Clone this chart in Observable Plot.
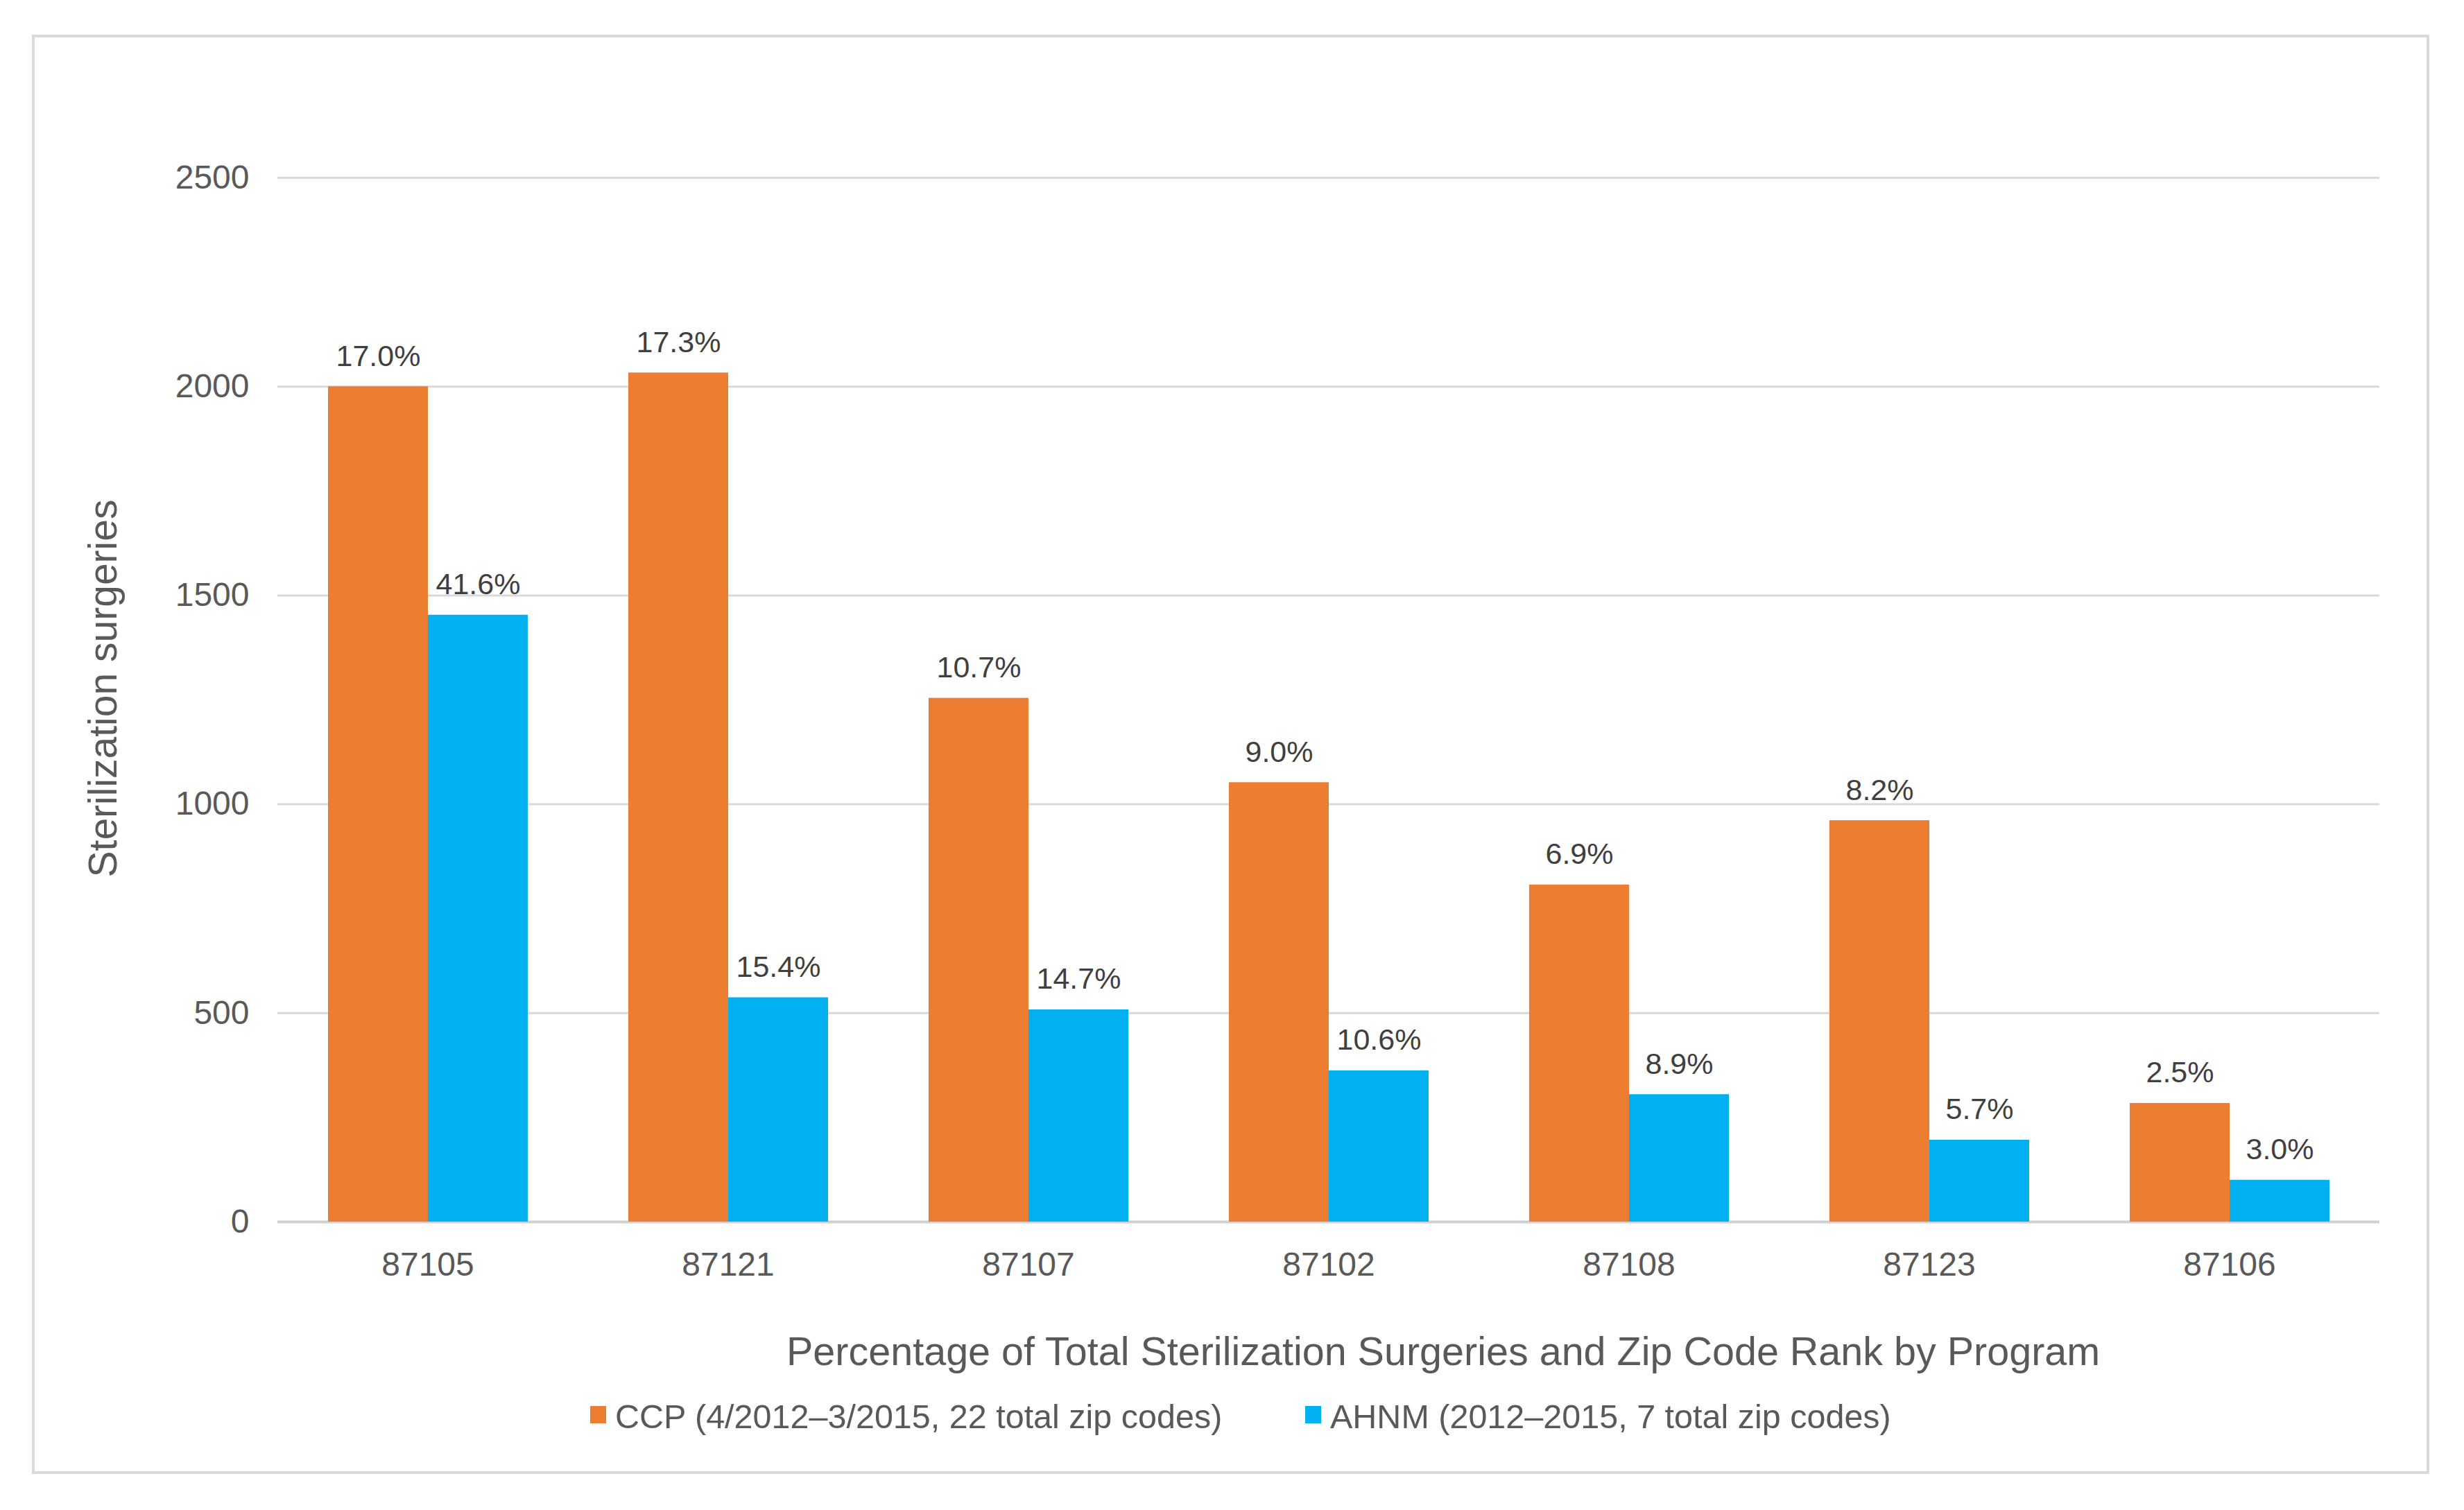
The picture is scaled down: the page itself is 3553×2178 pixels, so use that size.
<!DOCTYPE html>
<html>
<head>
<meta charset="utf-8">
<script src="https://cdn.jsdelivr.net/npm/d3@7"></script>
<script src="https://cdn.jsdelivr.net/npm/@observablehq/plot@0.6"></script>
<style>
  body { margin: 0; background: white; font-family: "Liberation Sans", Arial, sans-serif; color: #595959; }
  #page { position: relative; width: 3553px; height: 2178px; }
  #frame { position: absolute; left: 46px; top: 50px; width: 3457px; height: 2076px; border: 4px solid #dadada; box-sizing: border-box; }
  #chart { position: absolute; left: 0; top: 0; }
  #ytitle { position: absolute; left: 148px; top: 993px; font-size: 57px; line-height: 57px; white-space: nowrap;
            transform: translate(-50%, -50%) rotate(-90deg); }
  #xtitle { position: absolute; left: 1134px; top: 1921px; font-size: 57.5px; line-height: 57.5px; white-space: nowrap; }
  .key { position: absolute; top: 2019px; font-size: 48.5px; line-height: 48.5px; white-space: nowrap; padding-left: 36px; }
  .key i { position: absolute; left: 0; top: 9px; width: 23px; height: 25px; }
</style>
</head>
<body>
<div id="page">
  <div id="frame"></div>
  <div id="chart"></div>
  <div id="ytitle">Sterilization surgeries</div>
  <div id="xtitle">Percentage of Total Sterilization Surgeries and Zip Code Rank by Program</div>
  <div id="legend"></div>
</div>
<script>
// zip codes in rank order
const zips = ["87105", "87121", "87107", "87102", "87108", "87123", "87106"];
const programs = ["CCP", "AHNM"];
const legendLabels = ["CCP (4/2012–3/2015, 22 total zip codes)", "AHNM (2012–2015, 7 total zip codes)"];
const colors = ["#ED7D31", "#00B0F0"];

// sterilization surgeries per zip code
const ccpCounts = [2000, 2033, 1254, 1052, 807, 961, 284];
const ahnmCounts = [1453, 537, 508, 362, 305, 196, 100];

// share of the program's total
const ccpPct = ["17.0%", "17.3%", "10.7%", "9.0%", "6.9%", "8.2%", "2.5%"];
const ahnmPct = ["41.6%", "15.4%", "14.7%", "10.6%", "8.9%", "5.7%", "3.0%"];

const yTicks = [0, 500, 1000, 1500, 2000, 2500];

const rows = [];
zips.forEach((z, i) => {
  rows.push({zip: z, program: "CCP", count: ccpCounts[i], pct: ccpPct[i]});
  rows.push({zip: z, program: "AHNM", count: ahnmCounts[i], pct: ahnmPct[i]});
});

const chart = Plot.plot({
  width: 3553,
  height: 1880,
  marginLeft: 397,
  marginRight: 119,
  marginTop: 256,
  marginBottom: 118,
  style: {fontFamily: "Liberation Sans, Arial, sans-serif", fontSize: "48px", color: "#595959", background: "transparent"},
  fx: {domain: zips, padding: 0, label: null, tickSize: 0, tickPadding: 43},
  x: {domain: programs, axis: null, paddingInner: 0, paddingOuter: 0.5},
  y: {domain: [0, 2500], ticks: yTicks, tickFormat: d => String(d), tickSize: 0, tickPadding: 41, label: null},
  color: {domain: programs, range: colors},
  marks: [
    Plot.gridY(yTicks.filter(d => d > 0), {stroke: "#d9d9d9", strokeOpacity: 1, strokeWidth: 3}),
    Plot.ruleY([0], {stroke: "#d0d0d0", strokeWidth: 4}),
    Plot.barY(rows, {fx: "zip", x: "program", y: "count", fill: "program"}),
    Plot.text(rows, {fx: "zip", x: "program", y: "count", text: "pct", lineAnchor: "bottom", dy: -30, fontSize: 43, fill: "#404040"})
  ]
});
document.getElementById("chart").append(chart);

// legend below the axis title
const keyLeft = [851, 1882];
const legend = document.getElementById("legend");
programs.forEach((p, i) => {
  const k = document.createElement("div");
  k.className = "key";
  k.style.left = keyLeft[i] + "px";
  k.innerHTML = `<i style="background:${colors[i]}"></i>${legendLabels[i]}`;
  legend.append(k);
});
</script>
</body>
</html>
